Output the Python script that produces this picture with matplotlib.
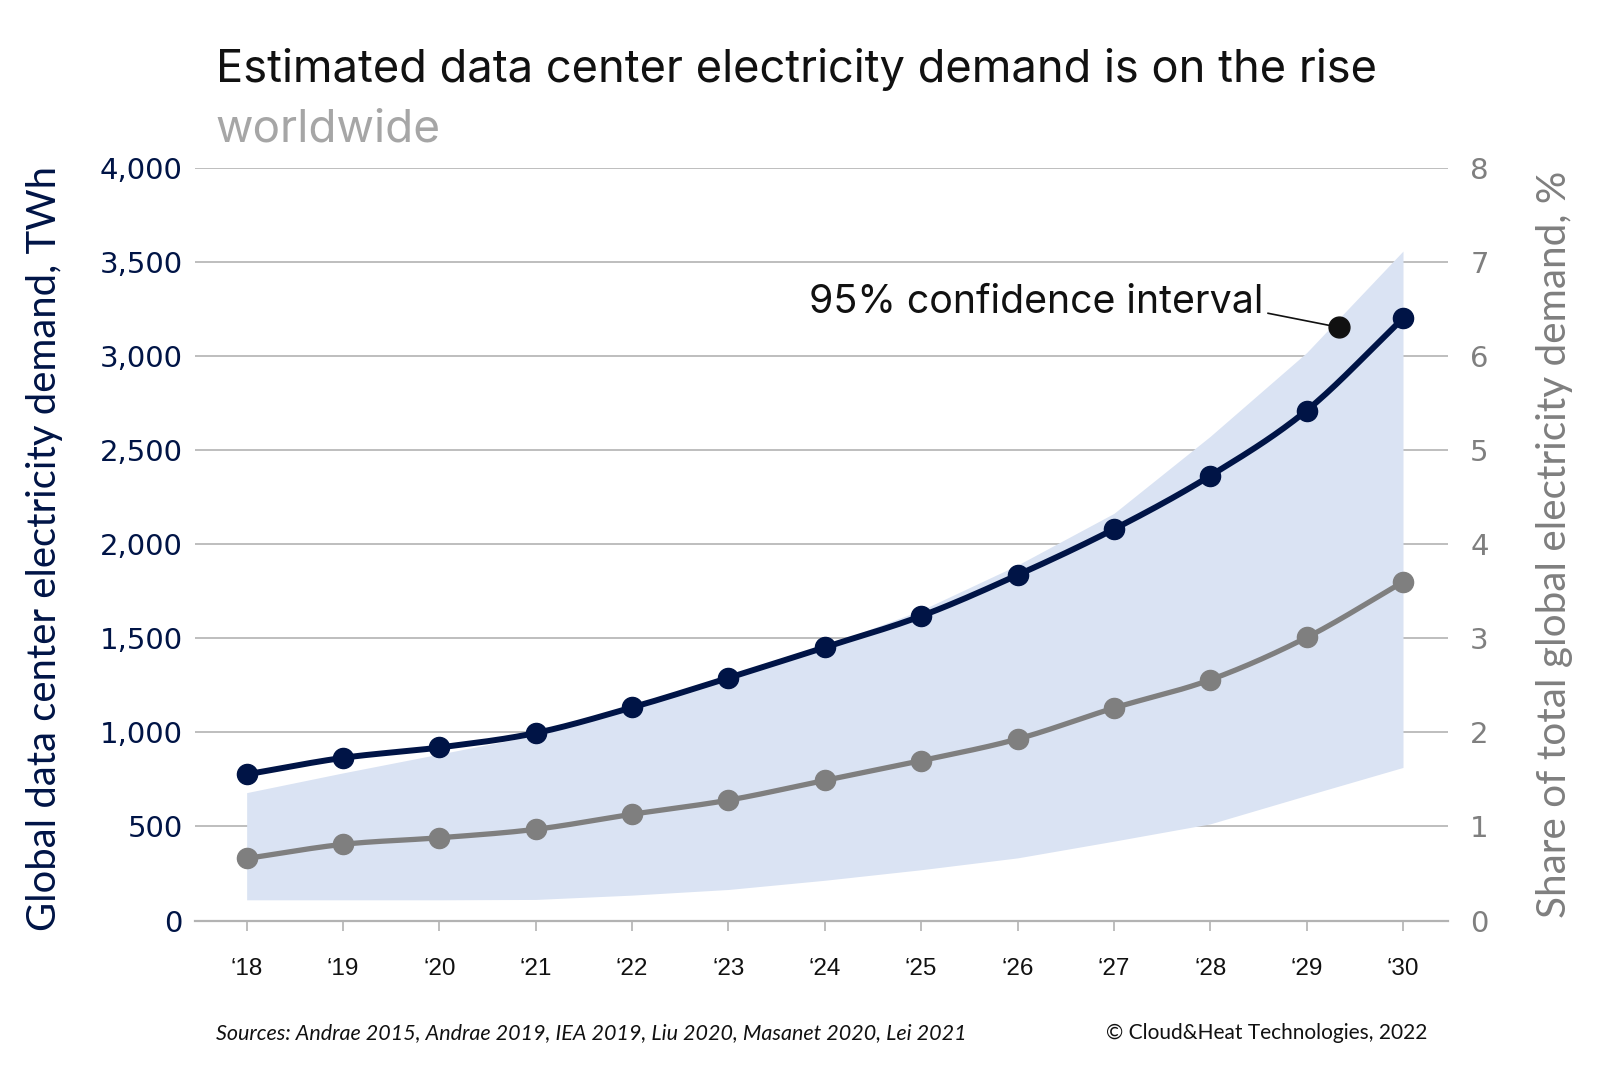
import numpy as np
import matplotlib
matplotlib.use("Agg")
import matplotlib.pyplot as plt

years = ["‘18", "‘19", "‘20", "‘21", "‘22", "‘23", "‘24", "‘25", "‘26", "‘27", "‘28", "‘29", "‘30"]
demand_twh = [777, 865, 920, 997, 1133, 1290, 1453, 1619, 1837, 2081, 2365, 2712, 3202]
share_pct = [0.66, 0.81, 0.88, 0.97, 1.13, 1.28, 1.49, 1.70, 1.93, 2.26, 2.56, 3.01, 3.60]
ci_upper = [680, 785, 885, 985, 1130, 1290, 1460, 1650, 1890, 2165, 2575, 3020, 3560]
ci_lower = [110, 110, 110, 112, 135, 165, 214, 270, 333, 422, 514, 665, 814]
left_ticks = [0, 500, 1000, 1500, 2000, 2500, 3000, 3500, 4000]
right_ticks = [0, 1, 2, 3, 4, 5, 6, 7, 8]

NAVY = "#001446"
GRAY = "#7F7F7F"
BAND = "#DAE3F3"
GRID = "#B3B3B3"


def smooth(xs, ys, n=30):
    """Catmull-Rom curve through the given points (display smoothing only)."""
    xs = np.asarray(xs, float)
    ys = np.asarray(ys, float)
    px = np.concatenate([[2 * xs[0] - xs[1]], xs, [2 * xs[-1] - xs[-2]]])
    py = np.concatenate([[2 * ys[0] - ys[1]], ys, [2 * ys[-1] - ys[-2]]])
    ox, oy = [], []
    t = np.linspace(0, 1, n, endpoint=False)
    for i in range(1, len(px) - 2):
        for P, out in ((px, ox), (py, oy)):
            p0, p1, p2, p3 = P[i - 1], P[i], P[i + 1], P[i + 2]
            out.extend(0.5 * ((2 * p1) + (-p0 + p2) * t
                              + (2 * p0 - 5 * p1 + 4 * p2 - p3) * t ** 2
                              + (-p0 + 3 * p1 - 3 * p2 + p3) * t ** 3))
    ox.append(xs[-1])
    oy.append(ys[-1])
    return np.array(ox), np.array(oy)


W, H = 1600, 1066
fig = plt.figure(figsize=(W / 100, H / 100), dpi=100)
left_px, right_px, top_px, bottom_px = 195, 1448, 168.3, 920.5
ax = fig.add_axes([left_px / W, 1 - bottom_px / H, (right_px - left_px) / W, (bottom_px - top_px) / H])
ax2 = ax.twinx()

x = np.arange(len(years))

# confidence band
ax.fill_between(x, ci_lower, ci_upper, color=BAND, linewidth=0, zorder=1)

# grid
for v in left_ticks[1:]:
    ax.axhline(v, color=GRID, linewidth=1.2, zorder=0.5)

# demand line
sx, sy = smooth(x, demand_twh)
ax.plot(sx, sy, color=NAVY, linewidth=4.3, zorder=3, solid_capstyle="round")
ax.plot(x, demand_twh, "o", color=NAVY, markersize=14.5, zorder=4)

# share line
sx2, sy2 = smooth(x, share_pct)
ax2.plot(sx2, sy2, color=GRAY, linewidth=3.8, zorder=3, solid_capstyle="round")
ax2.plot(x, share_pct, "o", color=GRAY, markersize=14.5, zorder=4)

# annotation
ax2.set_zorder(ax.get_zorder() + 1)
ax.patch.set_visible(False)
ax2.plot([10.6, 11.34], [3229 / 500, 3154 / 500], color="#111111", linewidth=1.2, zorder=5)
ax2.plot([11.34], [3154 / 500], "o", color="#111111", markersize=15, zorder=6)
ax2.text(10.55, 3285 / 500, "95% confidence interval", ha="right", va="center",
         fontsize=28.3, family="Inter", color="#111111", zorder=6)

# axes limits & ticks
ax.set_xlim(-0.536, 12.467)
ax.set_ylim(0, 4000)
ax2.set_ylim(0, 8)
ax.set_xticks(x)
ax.set_xticklabels(years, fontsize=17.5, family="Liberation Sans", color="#111111")
ax.set_yticks(left_ticks)
ax.set_yticklabels([f"{v:,}" for v in left_ticks], fontsize=21, family="DejaVu Sans", color=NAVY)
ax2.set_yticks(right_ticks)
ax2.set_yticklabels([str(v) for v in right_ticks], fontsize=21, family="DejaVu Sans", color=GRAY)

ax.tick_params(axis="x", direction="out", length=7, width=1.2, color=GRID, pad=20)
ax.tick_params(axis="y", length=0, pad=9)
ax2.tick_params(axis="y", length=0, pad=16)
for a in (ax, ax2):
    for s in ("top", "left", "right", "bottom"):
        a.spines[s].set_visible(False)
ax.axhline(0, color=GRID, linewidth=1.6, zorder=0.6, clip_on=False)

ax.set_ylabel("Global data center electricity demand, TWh", fontsize=28.8, family="Lato",
              color=NAVY)
ax.yaxis.set_label_coords((63 - left_px) / (right_px - left_px), 0.495)
ax2.set_ylabel("Share of total global electricity demand, %", fontsize=29.2, family="Lato",
               color=GRAY, rotation=90)
ax2.yaxis.set_label_coords((1536 - left_px) / (right_px - left_px), 0.50)

# titles
fig.text(216 / W, 1 - 82 / H, "Estimated data center electricity demand is on the rise",
         fontsize=32.6, family="Inter", color="#111111", ha="left", va="baseline")
fig.text(215 / W, 1 - 141 / H, "worldwide", fontsize=33, family="Inter", color="#A6A6A6",
         ha="left", va="baseline")

# footer
fig.text(216 / W, 1 - 1033 / H, "Sources: Andrae 2015, Andrae 2019, IEA 2019, Liu 2020, Masanet 2020, Lei 2021",
         fontsize=15.5, family="Lato", style="italic", color="#111111", ha="left", va="center")
fig.text(1427 / W, 1 - 1033 / H, "© Cloud&Heat Technologies, 2022",
         fontsize=15, family="Lato", color="#111111", ha="right", va="center")

fig.savefig("out.png", dpi=100)
